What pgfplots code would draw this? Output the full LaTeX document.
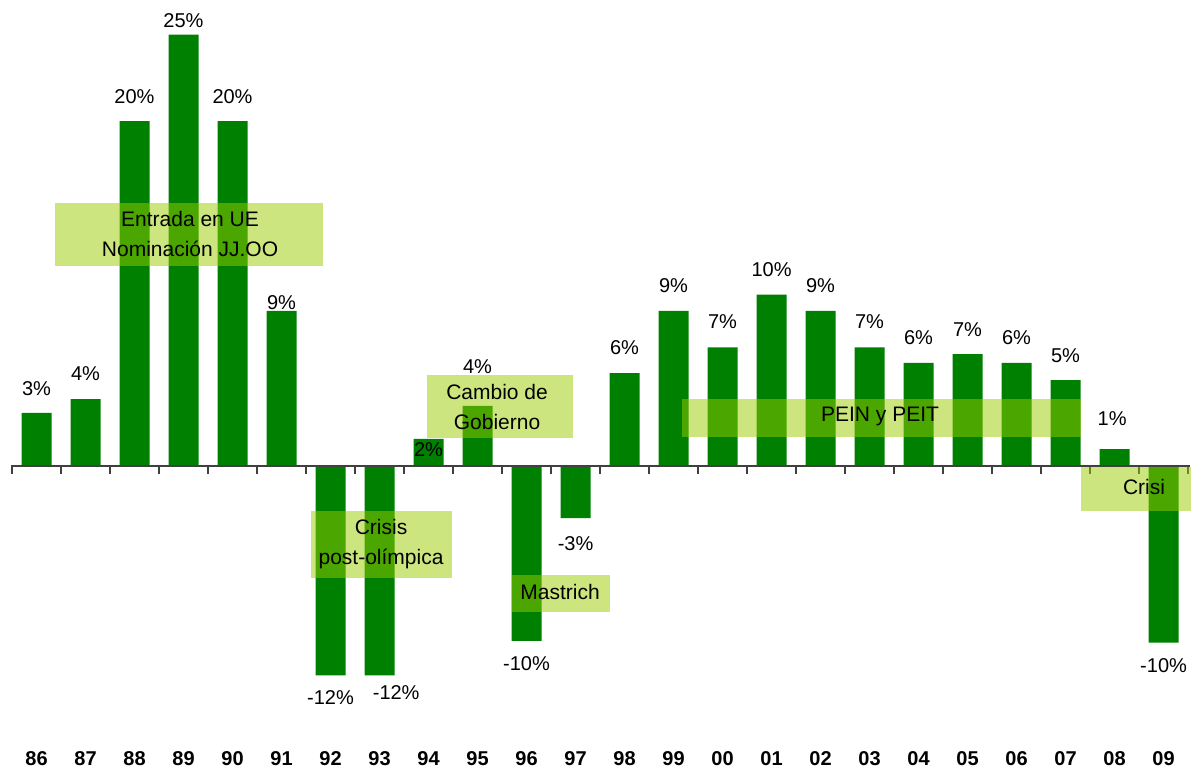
\documentclass[border=0pt]{standalone}
\usepackage{fontspec}
\setmainfont{Liberation Sans}
\usepackage{pgfplots}
\usepackage{pgfplotstable}
\pgfplotsset{compat=1.18}
\definecolor{barg}{HTML}{008000}
\definecolor{boxg}{HTML}{99CC00}

% annual change, 1986-2009
\pgfplotstableread{
x y
0 3.1
1 3.9
2 20.0
3 25.0
4 20.0
5 9.0
6 -12.1
7 -12.1
8 1.6
9 3.5
10 -10.1
11 -3.0
12 5.4
13 9.0
14 6.9
15 9.95
16 9.0
17 6.9
18 6.0
19 6.5
20 6.0
21 5.0
22 1.0
23 -10.2
}\bars

% where each value label sits
\pgfplotstableread{
lx ly lab
0 4.51 3
1 5.38 4
2 21.41 20
3 25.81 25
4 21.41 20
5 9.49 9
6 -13.37 -12
7.34 -13.08 -12
8 0.98 2
9 5.79 4
10 -11.40 -10
11 -4.46 -3
12 6.89 6
13 10.47 9
14 8.39 7
15 11.40 10
16 10.47 9
17 8.39 7
18 7.47 6
19 7.93 7
20 7.47 6
21 6.42 5
21.95 2.78 1
23 -11.52 -10
}\labels

\tikzset{note/.style={fill=boxg,fill opacity=0.5,draw=none},
 notetext/.style={align=center,font=\fontsize{10.5}{15}\selectfont,inner sep=0pt}}

\begin{document}
\begin{tikzpicture}
\begin{axis}[scale only axis,width=595.5pt,height=384pt,
 xmin=-0.745,xmax=23.56,ymin=-17.48,ymax=27,
 axis line style={draw=none},major tick length=0pt,ytick=\empty,
 xtick={0,...,23},
 xticklabels={86,87,88,89,90,91,92,93,94,95,96,97,98,99,00,01,02,03,04,05,06,07,08,09},
 xticklabel style={font=\fontsize{10}{12}\selectfont\bfseries,anchor=base,inner sep=0pt,yshift=1.5pt},
 clip=false]
\addplot[ybar,bar width=15pt,fill=barg,draw=none] table[x=x,y=y]{\bars};
\draw[black!75,line width=1pt] (axis cs:-0.53,0) -- (axis cs:23.53,0);
\pgfplotsinvokeforeach{-0.5,0.5,...,23.5}{\draw[black!75,line width=1pt] (axis cs:#1,0) -- ([yshift=-4pt]axis cs:#1,0);}
% annotation boxes
\fill[note] (axis cs:0.378,11.63) rectangle (axis cs:5.847,15.28);
\fill[note] (axis cs:7.969,1.62) rectangle (axis cs:10.949,5.27);
\fill[note] (axis cs:13.173,1.68) rectangle (axis cs:21.316,3.88);
\fill[note] (axis cs:5.602,-6.48) rectangle (axis cs:8.480,-2.60);
\fill[note] (axis cs:9.704,-8.45) rectangle (axis cs:11.704,-6.31);
\fill[note] (axis cs:21.316,-2.60) rectangle (axis cs:23.56,-0.06);
\node[notetext] at (axis cs:3.133,13.45) {Entrada en UE\\Nominación JJ.OO};
\node[notetext] at (axis cs:9.398,3.44) {Cambio de\\Gobierno};
\node[notetext] at (axis cs:17.214,2.89) {PEIN y PEIT};
\node[notetext] at (axis cs:7.031,-4.51) {Crisis\\post-olímpica};
\node[notetext] at (axis cs:10.684,-7.29) {Mastrich};
\node[notetext] at (axis cs:22.602,-1.22) {Crisi};
% value labels
\addplot[draw=none,point meta=explicit symbolic,nodes near coords={\pgfplotspointmeta\%},
 nodes near coords align={center},
 every node near coord/.append style={font=\fontsize{10}{12}\selectfont,anchor=center,inner sep=0pt}]
 table[x=lx,y=ly,meta=lab]{\labels};
\end{axis}
\end{tikzpicture}
\end{document}
